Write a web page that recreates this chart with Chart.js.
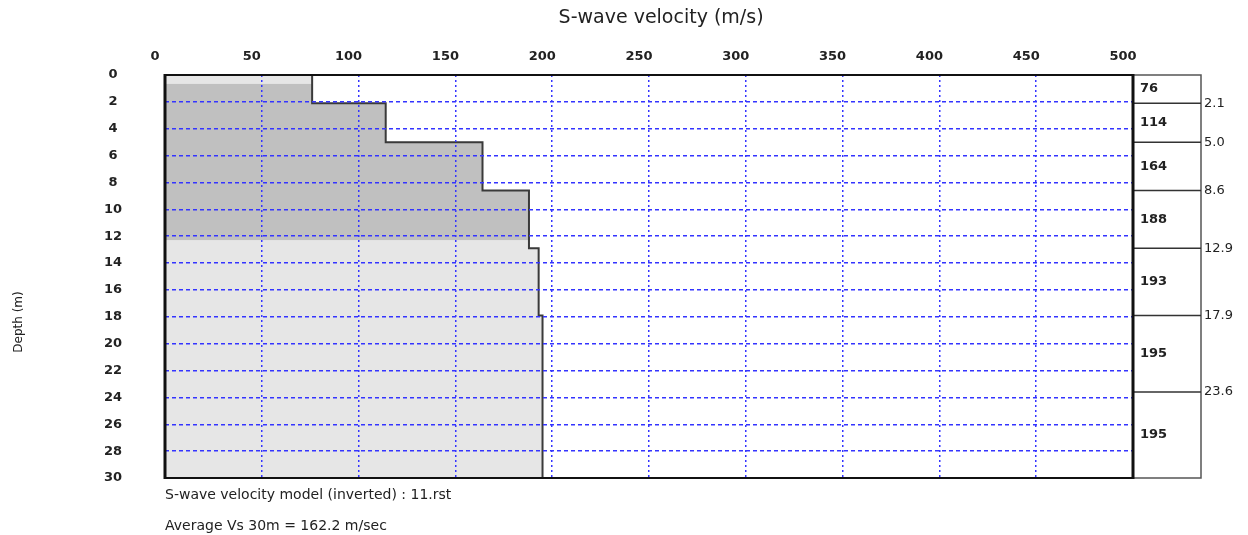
<!DOCTYPE html>
<html>
<head>
<meta charset="utf-8">
<script src="https://cdn.jsdelivr.net/npm/chart.js@4/dist/chart.umd.min.js"></script>
<style>html,body{margin:0;padding:0;background:#fff;overflow:hidden}canvas{display:block}</style>
</head>
<body>
<canvas id="c" width="1248" height="535"></canvas>
<script>
// ---- data ----
const layerVs = [76, 114, 164, 188, 193, 195, 195];          // m/s
const layerBottoms = [2.1, 5.0, 8.6, 12.9, 17.9, 23.6, 30];  // m
const shadedZone = [0.65, 12.3];                             // m (darker band)
const velocityMin = 0, velocityMax = 500, velocityStep = 50;
const depthMin = 0, depthMax = 30, depthStep = 2;
const xTitle = 'S-wave velocity (m/s)';
const yTitle = 'Depth (m)';
const notes = ['S-wave velocity model (inverted) : 11.rst', 'Average Vs 30m = 162.2 m/sec'];

function stepProfile(top, bottom) {
  const pts = [];
  let t = depthMin;
  for (let i = 0; i < layerVs.length; i++) {
    const b = layerBottoms[i];
    const s = Math.max(t, top), e = Math.min(b, bottom);
    if (e > s) { pts.push({x: layerVs[i], y: s}, {x: layerVs[i], y: e}); }
    t = b;
  }
  return pts;
}

const FONT = 'DejaVu Sans';
const GRID_BLUE = '#3434ff';

const panelPlugin = {
  id: 'panel',
  afterDraw(chart) {
    const {ctx, chartArea: a, scales: {y}} = chart;
    ctx.save();
    // right layer panel
    const pr = a.right + 68;
    ctx.strokeStyle = '#555';
    ctx.lineWidth = 1.5;
    ctx.beginPath();
    ctx.moveTo(a.right, a.top); ctx.lineTo(pr, a.top); ctx.lineTo(pr, a.bottom); ctx.lineTo(a.right, a.bottom);
    ctx.stroke();
    ctx.strokeStyle = '#333';
    ctx.fillStyle = '#222';
    ctx.textBaseline = 'middle';
    ctx.textAlign = 'left';
    ctx.font = '13px ' + FONT;
    let prev = depthMin;
    layerBottoms.forEach((b, i) => {
      const yb = y.getPixelForValue(b);
      const yt = y.getPixelForValue(prev);
      ctx.font = 'bold 13px ' + FONT;
      ctx.fillText(String(layerVs[i]), a.right + 7, (yt + yb) / 2);
      if (i < layerBottoms.length - 1) {
        ctx.beginPath(); ctx.moveTo(a.right, yb); ctx.lineTo(pr, yb); ctx.stroke();
        ctx.font = '13px ' + FONT;
        ctx.fillText(b.toFixed(1), pr + 3, yb);
      }
      prev = b;
    });
    // frame
    ctx.strokeStyle = '#111';
    ctx.lineWidth = 2;
    ctx.beginPath(); ctx.moveTo(a.left, a.top); ctx.lineTo(a.right, a.top); ctx.stroke();
    ctx.beginPath(); ctx.moveTo(a.left, a.bottom); ctx.lineTo(a.right, a.bottom); ctx.stroke();
    ctx.lineWidth = 3;
    ctx.beginPath(); ctx.moveTo(a.left, a.top - 1); ctx.lineTo(a.left, a.bottom + 1); ctx.stroke();
    ctx.beginPath(); ctx.moveTo(a.right, a.top - 1); ctx.lineTo(a.right, a.bottom + 1); ctx.stroke();
    // y title
    ctx.save();
    ctx.translate(19, 322);
    ctx.rotate(-Math.PI / 2);
    ctx.textAlign = 'center';
    ctx.font = '12px ' + FONT;
    ctx.fillStyle = '#222';
    ctx.fillText(yTitle, 0, 0);
    ctx.restore();
    // notes
    ctx.font = '14px ' + FONT;
    ctx.textAlign = 'left';
    ctx.fillStyle = '#222';
    ctx.fillText(notes[0], a.left, 495);
    ctx.fillText(notes[1], a.left, 526);
    ctx.restore();
  }
};

new Chart(document.getElementById('c'), {
  type: 'line',
  data: {
    datasets: [
      {data: stepProfile(depthMin, depthMax), borderColor: '#3a3a3a', borderWidth: 2, fill: false, pointRadius: 0, tension: 0},
      {data: stepProfile(shadedZone[0], shadedZone[1]), borderColor: 'rgba(0,0,0,0)', borderWidth: 0, backgroundColor: '#c0c0c0', fill: 'origin', pointRadius: 0, tension: 0},
      {data: stepProfile(depthMin, depthMax), borderColor: 'rgba(0,0,0,0)', borderWidth: 0, backgroundColor: '#e6e6e6', fill: 'origin', pointRadius: 0, tension: 0}
    ]
  },
  options: {
    indexAxis: 'y',
    responsive: false,
    animation: false,
    events: [],
    layout: {padding: {left: 0, top: 0, right: 115, bottom: 57}},
    plugins: {legend: {display: false}, tooltip: {enabled: false}},
    scales: {
      x: {
        type: 'linear', position: 'top', min: velocityMin, max: velocityMax,
        ticks: {stepSize: velocityStep, labelOffset: -10, padding: 11, color: '#222', maxRotation: 0, autoSkip: false,
                font: {family: FONT, size: 13, weight: 'bold'}},
        grid: {color: c => (c.tick && (c.tick.value === velocityMin || c.tick.value === velocityMax)) ? 'rgba(0,0,0,0)' : GRID_BLUE,
               lineWidth: 1.5, drawTicks: false, z: 1},
        border: {display: false, dash: [2, 3]},
        title: {display: true, text: '\u00a0\u00a0\u00a0\u00a0' + xTitle, color: '#222', font: {family: FONT, size: 19}, padding: {top: 7, bottom: 0}},
        afterFit(s) { s.height = 75; }
      },
      y: {
        type: 'linear', reverse: true, min: depthMin, max: depthMax,
        ticks: {stepSize: depthStep, crossAlign: 'center', padding: 43, color: '#222', autoSkip: false,
                font: {family: FONT, size: 13, weight: 'bold'}},
        grid: {color: c => (c.tick && (c.tick.value === depthMin || c.tick.value === depthMax)) ? 'rgba(0,0,0,0)' : GRID_BLUE,
               lineWidth: 1.5, drawTicks: false, z: 1},
        border: {display: false, dash: [4, 3]},
        afterFit(s) { s.width = 165; }
      }
    }
  },
  plugins: [panelPlugin]
});
</script>
</body>
</html>
